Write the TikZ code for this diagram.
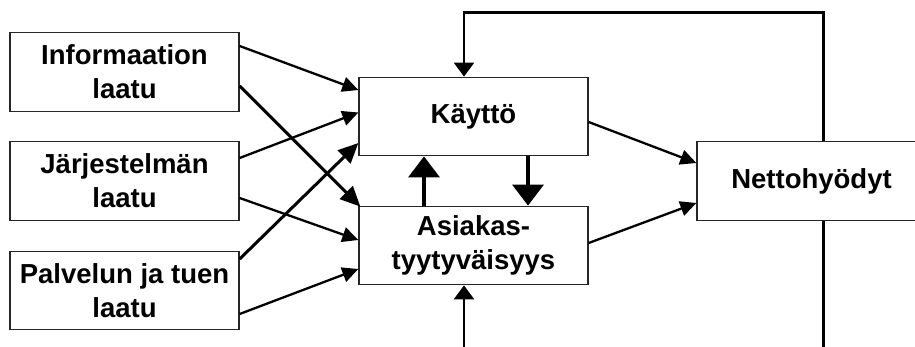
\documentclass[tikz,border=0pt]{standalone}
\usepackage{fontspec}
\setmainfont{Liberation Sans}
\usetikzlibrary{arrows.meta}
\tikzset{
  box/.style={draw=black!85, line width=1.3pt, fill=white, minimum width=229pt, minimum height=78.5pt,
    inner sep=0pt, align=center, font=\fontsize{27.5}{34}\selectfont\bfseries},
  thin/.style={line width=2.3pt, -{Triangle[length=16pt,width=15pt]}},
  thick/.style={line width=3pt, -{Triangle[length=20pt,width=18pt]}},
  vert/.style={line width=3.5pt, -{Triangle[length=21pt,width=31pt]}},
  fbline/.style={line width=2.6pt},
  fbarrow/.style={line width=2.6pt, -{Triangle[length=14pt,width=20pt]}}
}
\begin{document}
\begin{tikzpicture}[x=1pt,y=-1pt]
\useasboundingbox (0,0) rectangle (915,347);
\clip (0,0) rectangle (915,347);
\node[box] (info) at (124.5,72) {Informaation\\laatu};
\node[box] (jarj) at (124.5,181) {Järjestelmän\\laatu};
\node[box] (palv) at (124.5,290.5) {Palvelun ja tuen\\laatu};
\node[box] (kayt) at (473.5,116.5) {Käyttö};
\node[box] (asi) at (473.5,245.5) {Asiakas-\\tyytyväisyys};
\node[box] (netto) at (811.5,181) {Nettohyödyt};
\coordinate (fbtop) at (464,12.7);
\coordinate (fbbot) at (464,360);
\coordinate (fbbotr) at (823.3,360);

\draw[thin] ([yshift=26pt]info.east) -- ([yshift=26.5pt]kayt.west);
\draw[thick] ([yshift=-14pt]info.east) -- ([xshift=2pt,yshift=-1pt]asi.north west);
\draw[thin] ([yshift=23pt]jarj.east) -- ([yshift=4pt]kayt.west);
\draw[thin] ([yshift=-17pt]jarj.east) -- ([yshift=5.5pt]asi.west);
\draw[thick] ([yshift=31.5pt]palv.east) -- ([yshift=-26.5pt]kayt.west);
\draw[thin] ([yshift=-23.5pt]palv.east) -- ([yshift=-23.5pt]asi.west);

\draw[vert] ([xshift=-49.5pt]asi.north) -- ([xshift=-49.5pt]kayt.south);
\draw[vert] ([xshift=54.5pt]kayt.south) -- ([xshift=54.5pt]asi.north);

\draw[thin] ([yshift=-5.5pt]kayt.east) -- ([yshift=18pt]netto.west);
\draw[thin] ([yshift=2.5pt]asi.east) -- ([yshift=-22pt]netto.west);

\draw[fbarrow] ([xshift=11.8pt]netto.north) |- (fbtop) -- (fbtop |- kayt.north);
\draw[fbline] ([xshift=11.8pt]netto.south) -- (fbbotr);
\draw[fbarrow] (fbbot) -- (fbbot |- asi.south);
\end{tikzpicture}
\end{document}
